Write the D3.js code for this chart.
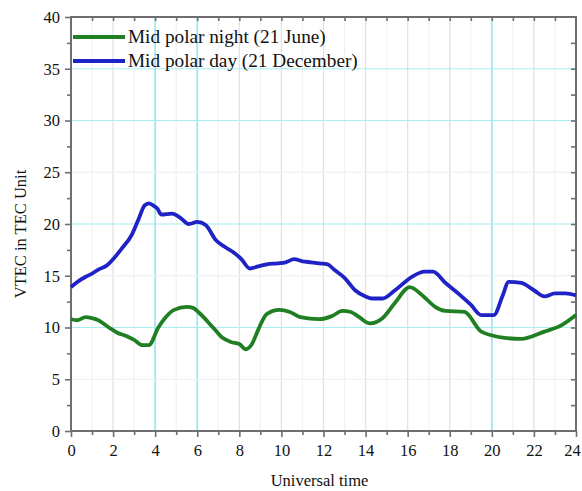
<!DOCTYPE html>
<html>
<head>
<meta charset="utf-8">
<script src="https://cdn.jsdelivr.net/npm/d3@7"></script>
<style>
  body { margin: 0; background: #fff; }
  text { font-family: "Liberation Serif", "DejaVu Serif", serif; }
</style>
</head>
<body>
<div id="chart"></div>
<script>
// hours (UT) and VTEC values
const dayHours = [0, 0.3, 0.7, 1.0, 1.3, 1.7, 2.0, 2.4, 2.9, 3.2, 3.5, 3.7, 3.9, 4.1, 4.3, 4.8, 5.2, 5.6, 6.0, 6.4,
  6.9, 7.3, 7.7, 8.1, 8.5, 8.9, 9.3, 9.8, 10.2, 10.6, 11.0, 11.4, 11.8, 12.2, 12.5, 13.0, 13.5, 14.0, 14.3, 14.8,
  15.4, 16.2, 16.8, 17.2, 17.8, 18.4, 19.0, 19.5, 20.1, 20.5, 20.8, 21.4, 22.0, 22.5, 23.0, 23.5, 24.0];
const dayVtec = [13.9, 14.4, 14.9, 15.2, 15.6, 16.0, 16.6, 17.6, 19.0, 20.4, 21.8, 22.0, 21.8, 21.5, 20.9, 21.0, 20.6, 20.0, 20.2, 19.9,
  18.4, 17.8, 17.3, 16.6, 15.7, 15.9, 16.1, 16.2, 16.3, 16.6, 16.4, 16.3, 16.2, 16.1, 15.6, 14.8, 13.6, 13.0, 12.8, 12.8,
  13.6, 14.9, 15.4, 15.4, 14.3, 13.3, 12.2, 11.2, 11.2, 13.0, 14.4, 14.3, 13.6, 13.0, 13.3, 13.3, 13.1];

const nightHours = [0, 0.3, 0.7, 1.0, 1.3, 1.8, 2.2, 2.6, 3.0, 3.4, 3.7, 4.15, 4.5, 4.9, 5.5, 5.8, 6.1, 6.75, 7.2, 7.6,
  8.0, 8.3, 8.6, 8.9, 9.3, 9.9, 10.4, 10.9, 11.8, 12.4, 12.9, 13.3, 13.7, 14.2, 14.8, 15.4, 16.1, 16.7, 17.3, 17.8,
  18.7, 19.5, 20.6, 21.4, 22.5, 23.3, 24.0];
const nightVtec = [10.8, 10.7, 11.0, 10.9, 10.7, 10.0, 9.5, 9.2, 8.8, 8.3, 8.3, 10.0, 11.0, 11.7, 12.0, 11.9, 11.4, 10.0, 9.0, 8.6,
  8.4, 7.9, 8.4, 9.8, 11.3, 11.7, 11.5, 11.0, 10.8, 11.1, 11.6, 11.5, 11.0, 10.4, 10.9, 12.4, 13.9, 13.1, 12.0, 11.6,
  11.5, 9.6, 9.0, 8.9, 9.6, 10.2, 11.2];

const seriesNames = ["Mid polar night (21 June)", "Mid polar day (21 December)"];
const xTicks = d3.range(0, 25, 2);
const yTicks = d3.range(0, 41, 5);

const w = 582, h = 491;
const margin = { top: 17, right: 6, bottom: 60, left: 71 };
const width = w - margin.left - margin.right;
const height = h - margin.top - margin.bottom;

const svg = d3.select("#chart").append("svg")
  .attr("width", w)
  .attr("height", h);
const g = svg.append("g").attr("transform", "translate(" + margin.left + "," + margin.top + ")");

const x = d3.scaleLinear().domain([0, 24]).range([0, width]);
const y = d3.scaleLinear().domain([0, 40]).range([height, 0]);

const cyanX = [4, 6, 20];
const cyanY = [10, 20, 30, 35];

// grid
g.selectAll(".vgrid-minor").data(d3.range(1, 24, 2)).enter().append("line")
  .attr("x1", d => x(d)).attr("x2", d => x(d)).attr("y1", 0).attr("y2", height)
  .attr("stroke", "#f2f2f2").attr("stroke-width", 1.2);
g.selectAll(".vgrid").data(d3.range(2, 24, 2)).enter().append("line")
  .attr("x1", d => x(d)).attr("x2", d => x(d)).attr("y1", 0).attr("y2", height)
  .attr("stroke", d => cyanX.includes(d) ? "#9ee8ef" : "#e2e2e2")
  .attr("stroke-width", d => cyanX.includes(d) ? 1.8 : 1.3);
g.selectAll(".hgrid").data(d3.range(5, 40, 5)).enter().append("line")
  .attr("x1", 0).attr("x2", width).attr("y1", d => y(d)).attr("y2", d => y(d))
  .attr("stroke", d => cyanY.includes(d) ? "#a6ecf2" : "#eeeeee")
  .attr("stroke-width", 1.2);

// axes
const axisColor = "#6e6e6e";
const bottomAxis = g.append("g").attr("transform", "translate(0," + height + ")")
  .call(d3.axisBottom(x).tickValues(xTicks).tickSize(6).tickPadding(7));
const bottomMinor = g.append("g").attr("transform", "translate(0," + height + ")")
  .call(d3.axisBottom(x).tickValues(d3.range(1, 24, 2)).tickSize(4).tickFormat(""));
const topAxis = g.append("g")
  .call(d3.axisBottom(x).tickValues(d3.range(1, 24, 1)).tickSize(4).tickFormat(""));
const leftAxis = g.append("g")
  .call(d3.axisLeft(y).tickValues(yTicks).tickSize(6).tickPadding(5));
const leftMinor = g.append("g")
  .call(d3.axisLeft(y).tickValues(d3.range(2.5, 40, 5)).tickSize(4).tickFormat(""));
const rightAxis = g.append("g").attr("transform", "translate(" + width + ",0)")
  .call(d3.axisLeft(y).tickValues(d3.range(2.5, 40, 2.5)).tickSize(5).tickFormat(""));

[bottomAxis, bottomMinor, topAxis, leftAxis, leftMinor, rightAxis].forEach(a => {
  a.select(".domain").remove();
  a.selectAll("line").attr("stroke", axisColor).attr("stroke-width", 1.6);
  a.selectAll("text").attr("fill", "#111").style("font-size", "16.5px")
    .style("font-family", "'Liberation Serif', serif");
});
// last label sits against the right edge, nudge it in
bottomAxis.selectAll(".tick text").filter(d => d === 24).attr("dx", "-4");

// frame
g.append("rect").attr("x", 0).attr("y", 0).attr("width", width).attr("height", height)
  .attr("fill", "none").attr("stroke", axisColor).attr("stroke-width", 2);

// series
const line = d3.line().x(d => x(d[0])).y(d => y(d[1])).curve(d3.curveMonotoneX);
const night = nightHours.map((t, i) => [t, nightVtec[i]]);
const day = dayHours.map((t, i) => [t, dayVtec[i]]);
const colors = ["#1f7f22", "#1f22c4"];

g.append("path").datum(night).attr("d", line)
  .attr("fill", "none").attr("stroke", colors[0]).attr("stroke-width", 3.8).attr("stroke-linejoin", "round");
g.append("path").datum(day).attr("d", line)
  .attr("fill", "none").attr("stroke", colors[1]).attr("stroke-width", 3.8).attr("stroke-linejoin", "round");

// legend
const legend = g.append("g").attr("transform", "translate(2,20)");
seriesNames.forEach((name, i) => {
  const row = legend.append("g").attr("transform", "translate(0," + (i * 24) + ")");
  row.append("line").attr("x1", 0).attr("x2", 52).attr("y1", 0).attr("y2", 0)
    .attr("stroke", colors[i]).attr("stroke-width", 3.8);
  row.append("text").attr("transform", "translate(55,6) scale(1.07,1)").attr("fill", "#111")
    .style("font-size", "18px").text(name);
});

// titles
svg.append("text")
  .attr("x", margin.left + width / 2 - 4).attr("y", 486)
  .attr("text-anchor", "middle").attr("fill", "#111").style("font-size", "16.5px")
  .text("Universal time");
svg.append("text")
  .attr("transform", "translate(26," + (margin.top + height / 2 + 10) + ") rotate(-90)")
  .attr("text-anchor", "middle").attr("fill", "#111").style("font-size", "16.5px")
  .text("VTEC in TEC Unit");
</script>
</body>
</html>
